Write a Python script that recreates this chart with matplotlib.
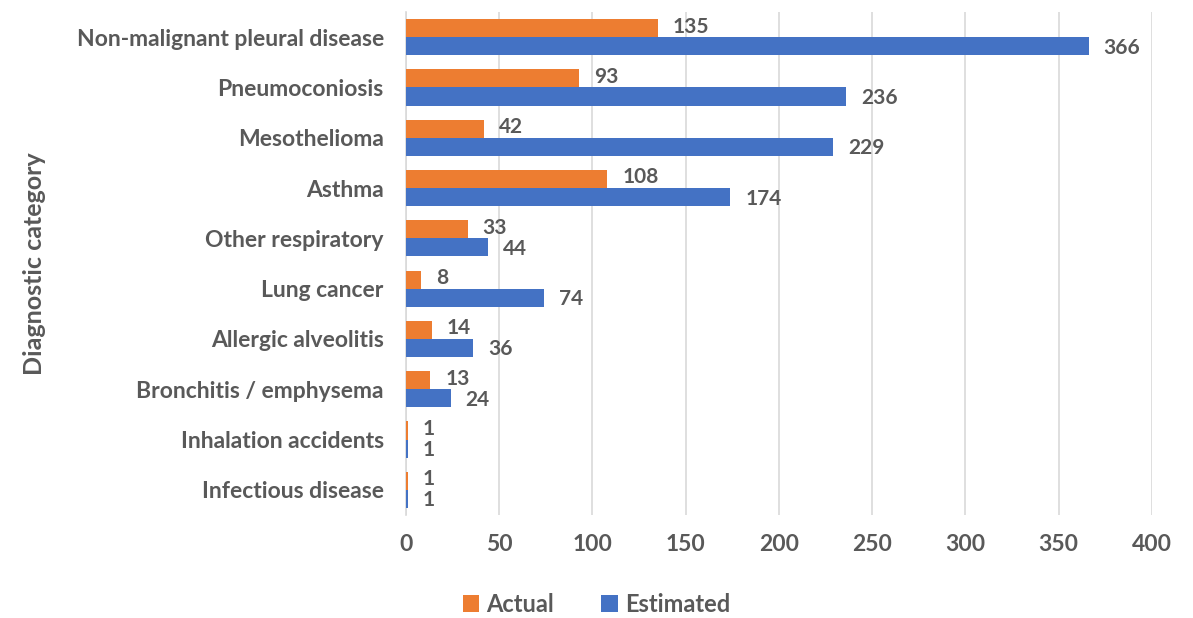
import numpy as np
import matplotlib.pyplot as plt

plt.rcParams['font.family'] = ['Lato', 'DejaVu Sans']
plt.rcParams['font.weight'] = 'bold'

# diagnostic categories, top to bottom
categories = ['Non-malignant pleural disease', 'Pneumoconiosis', 'Mesothelioma',
              'Asthma', 'Other respiratory', 'Lung cancer', 'Allergic alveolitis',
              'Bronchitis / emphysema', 'Inhalation accidents', 'Infectious disease']
actual = [135, 93, 42, 108, 33, 8, 14, 13, 1, 1]
estimated = [366, 236, 229, 174, 44, 74, 36, 24, 1, 1]

cor_actual = '#ED7D31'
cor_estimated = '#4472C4'
cinza = '#595959'

fig = plt.figure(figsize=(11.93, 6.18), dpi=100)
ax = fig.add_axes([0.3403, 0.1667, 0.6253, 0.8139])

y = np.arange(len(categories))
h = 0.36
ax.barh(y - h / 2, actual, height=h, color=cor_actual, label='Actual', zorder=3)
ax.barh(y + h / 2, estimated, height=h, color=cor_estimated, label='Estimated', zorder=3)

# rótulos de valor ao lado de cada barra
for i in range(len(categories)):
    ax.text(actual[i] + 8, y[i] - h / 2 - 0.03, str(actual[i]), va='center', ha='left',
            fontsize=15, color=cinza, fontweight='bold')
    ax.text(estimated[i] + 8, y[i] + h / 2 + 0.03, str(estimated[i]), va='center', ha='left',
            fontsize=15, color=cinza, fontweight='bold')

ax.set_xlim(0, 400)
ax.set_ylim(len(categories) - 0.5, -0.5)
ax.set_xticks(range(0, 401, 50))
ax.set_yticks(y)
ax.set_yticklabels(categories)
ax.tick_params(axis='both', length=0, labelsize=16.5, labelcolor=cinza)
ax.tick_params(axis='x', pad=14)
ax.tick_params(axis='y', pad=16)
ax.grid(axis='x', color='#d9d9d9', linewidth=1.2, zorder=0)
for s in ['top', 'right', 'bottom']:
    ax.spines[s].set_visible(False)
ax.spines['left'].set_color('#d9d9d9')
ax.spines['left'].set_linewidth(1.2)

ax.set_ylabel('Diagnostic category', fontsize=18, color=cinza, fontweight='bold', labelpad=22)

fig.legend(loc='center', bbox_to_anchor=(0.5, 0.022), ncol=2, frameon=False,
           fontsize=17, labelcolor=cinza, handlelength=0.7, handleheight=0.7,
           handletextpad=0.3, columnspacing=2.0, bbox_transform=fig.transFigure)

fig.savefig('out.png', dpi=100)
